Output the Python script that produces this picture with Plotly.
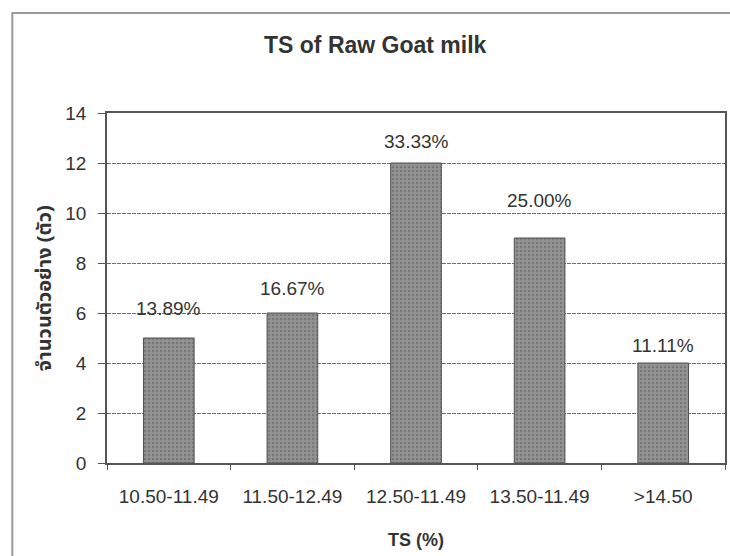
import plotly.graph_objects as go

# Distribution of total solids (TS) in raw goat milk samples
categories = ["10.50-11.49", "11.50-12.49", "12.50-11.49", "13.50-11.49", ">14.50"]
counts = [5, 6, 12, 9, 4]
percent_labels = ["13.89%", "16.67%", "33.33%", "25.00%", "11.11%"]

title_text = "TS of Raw Goat milk"
x_title = "TS (%)"
y_title = "จำนวนตัวอย่าง (ตัว)"

# vertical offset (px) of each percentage label above its bar
label_shift = [30, 25, 22, 38, 18]

FONT = "Liberation Sans, Arial, sans-serif"
TXT = "#333333"

fig = go.Figure(
    go.Bar(
        x=categories,
        y=counts,
        marker=dict(
            color="#8c8c8c",
            line=dict(color="#505050", width=1),
            pattern=dict(shape=".", fgcolor="#5e5e5e", bgcolor="#939393",
                         size=4, solidity=0.35),
        ),
        width=0.41,
        hoverinfo="skip",
    )
)

for cat, val, lab, sh in zip(categories, counts, percent_labels, label_shift):
    fig.add_annotation(x=cat, y=val, text=lab, showarrow=False,
                       yshift=sh, yanchor="middle",
                       font=dict(size=19, color=TXT, family=FONT))

fig.add_annotation(text=f"<b>{title_text}</b>", xref="paper", yref="paper",
                   x=0.434, y=1.194, xanchor="center", yanchor="middle",
                   showarrow=False, font=dict(size=23, color=TXT, family=FONT))
fig.add_annotation(text=f"<b>{x_title}</b>", xref="paper", yref="paper",
                   x=0.5, y=-0.22, xanchor="center", yanchor="middle",
                   showarrow=False, font=dict(size=18, color=TXT, family=FONT))
fig.add_annotation(text=f"<b>{y_title}</b>", xref="paper", yref="paper",
                   x=-0.1, y=0.5, xanchor="center", yanchor="middle",
                   textangle=-90, showarrow=False,
                   font=dict(size=20, color=TXT,
                             family="Noto Sans Thai, Noto Sans, DejaVu Sans, sans-serif"))

# outer chart frame
fig.add_shape(type="rect", xref="paper", yref="paper",
              x0=-0.1532, y0=-0.4, x1=1.2, y1=1.2857,
              line=dict(color="#9a9a9a", width=2), layer="below")

fig.update_layout(
    width=730, height=556,
    margin=dict(l=107, r=3, t=113, b=93),
    paper_bgcolor="white", plot_bgcolor="white",
    showlegend=False,
    font=dict(family=FONT, size=19, color=TXT),
    xaxis=dict(
        type="category",
        showline=True, linecolor="#555555", linewidth=1.5, mirror=True,
        ticks="outside", ticklen=5, tickcolor="#555555", tickson="boundaries",
        ticklabelstandoff=15,
        tickfont=dict(size=19, color=TXT, family=FONT),
        showgrid=False,
    ),
    yaxis=dict(
        range=[0, 14], dtick=2, tick0=0,
        showline=True, linecolor="#555555", linewidth=1.5, mirror=True,
        ticks="outside", ticklen=7, tickcolor="#555555",
        ticklabelstandoff=8,
        tickfont=dict(size=19, color=TXT, family=FONT),
        showgrid=True, gridcolor="#6e6e6e", gridwidth=1, griddash="4px,1px",
        zeroline=False,
    ),
)

fig.write_html("out.html")
